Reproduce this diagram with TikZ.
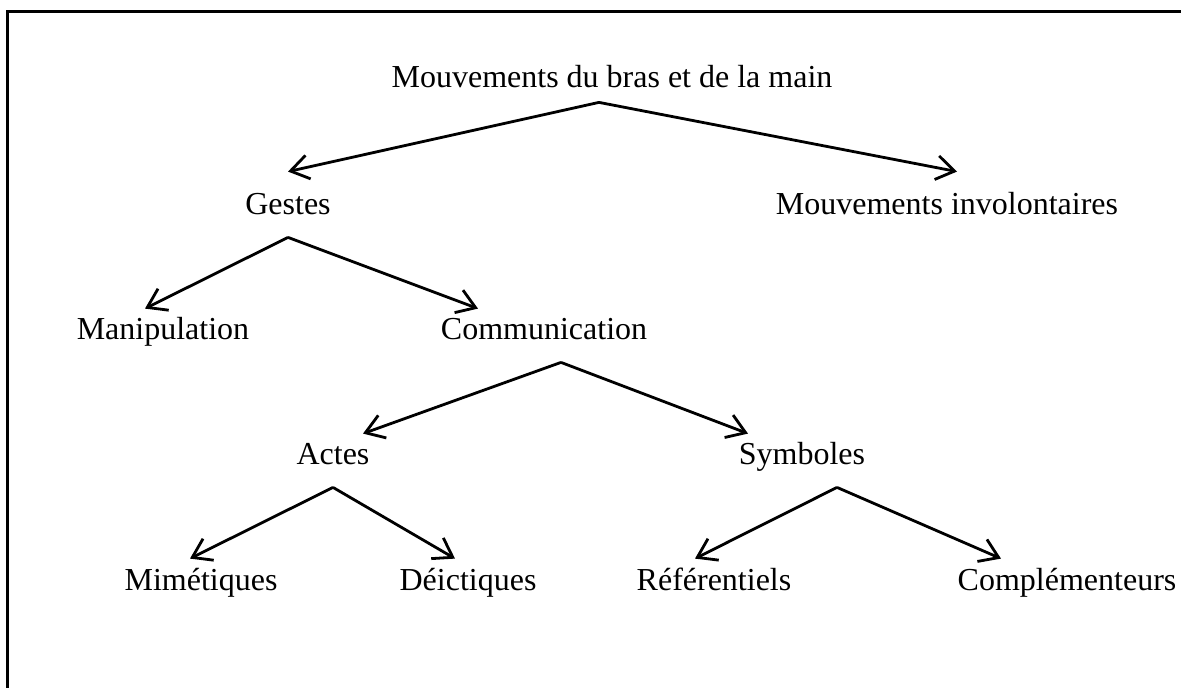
\documentclass[tikz,border=0pt]{standalone}
\usepackage{fontspec}
\setmainfont{Liberation Serif}
\usetikzlibrary{arrows.meta}
\tikzstyle{term} = [anchor=base, inner xsep=0pt, inner ysep=4.5pt, text height=11pt, text depth=6.5pt,
font=\fontsize{16}{19}\selectfont]
\tikzstyle{arrow} = [line width=1.4pt,-{Straight Barb[length=9pt,width=12pt,line width=1.4pt]}]
\tikzstyle{frame} = [line width=1.5pt]

\begin{document}
\begin{tikzpicture}[x=0.5pt,y=-0.5pt]
    \useasboundingbox (0,0) rectangle (1181,688);
    \draw[frame] (7,688) -- (7,12) -- (1181,12);

    \node[term] (root) at (612,88) {Mouvements du bras et de la main};
    \node[term] (gestes) at (288,215) {Gestes};
    \node[term] (invol) at (947,215) {Mouvements involontaires};
    \node[term] (manip) at (163,340) {Manipulation};
    \node[term] (comm) at (544,340) {Communication};
    \node[term] (actes) at (333,465) {Actes};
    \node[term] (symb) at (802,465) {Symboles};
    \node[term] (mimet) at (201,590) {Mimétiques};
    \node[term] (deict) at (468,590) {Déictiques};
    \node[term] (refer) at (714,590) {Référentiels};
    \node[term] (compl) at (1067,590) {Complémenteurs};

    \draw[arrow] ([xshift=-6.5pt,yshift=4pt]root.south) -- ([yshift=6pt]gestes.north);
    \draw[arrow] ([xshift=-6.5pt,yshift=4pt]root.south) -- ([xshift=5pt,yshift=6pt]invol.north);
    \draw[arrow] (gestes.south) -- ([xshift=-9pt]manip.north);
    \draw[arrow] (gestes.south) -- ([xshift=-33pt]comm.north);
    \draw[arrow] ([xshift=8.5pt]comm.south) -- ([xshift=15pt]actes.north);
    \draw[arrow] ([xshift=8.5pt]comm.south) -- ([xshift=-27pt]symb.north);
    \draw[arrow] (actes.south) -- ([xshift=-5.5pt]mimet.north);
    \draw[arrow] (actes.south) -- ([xshift=-6.5pt]deict.north);
    \draw[arrow] ([xshift=17.5pt]symb.south) -- ([xshift=-9.5pt]refer.north);
    \draw[arrow] ([xshift=17.5pt]symb.south) -- ([xshift=-33pt]compl.north);
\end{tikzpicture}
\end{document}
